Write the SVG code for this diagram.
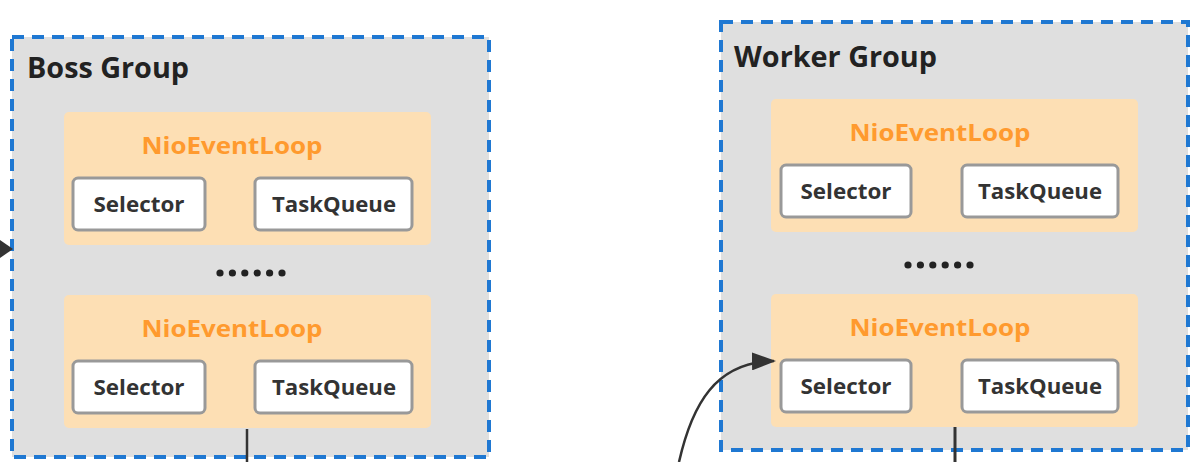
<svg xmlns="http://www.w3.org/2000/svg" width="1202" height="462" viewBox="0 0 1202 462">
<style>
.grp{fill:#dfdfdf;stroke:#1f78d2;stroke-width:4;stroke-dasharray:12 8}
.loop{fill:#fddfb4}
.item{fill:#ffffff;stroke:#999999;stroke-width:3}
.gt{font-family:"Open Sans","Noto Sans",sans-serif;font-weight:bold;font-size:28px;fill:#222222}
.lt{font-family:"Open Sans","Noto Sans",sans-serif;font-weight:bold;font-size:24px;fill:#ff9a2e;text-anchor:middle}
.it{font-family:"Open Sans","Noto Sans",sans-serif;font-weight:bold;font-size:22px;fill:#333333;text-anchor:middle}
.dot{fill:#222222}
.ln{fill:none;stroke:#333333;stroke-width:2.5}
</style>
<defs>
<marker id="ah2" viewBox="0 0 24 18" refX="22" refY="9" markerWidth="24" markerHeight="18" orient="auto" markerUnits="userSpaceOnUse">
<path d="M0,0 L24,9 L0,18 z" fill="#333333"/>
</marker>
</defs>

<g id="boss-group">
<rect class="grp" x="12" y="37" width="477" height="420"/>
<text class="gt" x="27" y="78" textLength="162" lengthAdjust="spacingAndGlyphs">Boss Group</text>
</g>
<g id="boss-loop-1">
<rect class="loop" x="64" y="112" width="367" height="133" rx="5"/>
<text class="lt" x="232" y="154" textLength="181" lengthAdjust="spacingAndGlyphs">NioEventLoop</text>
<rect class="item" x="73" y="178" width="132" height="52" rx="5"/>
<text class="it" x="139" y="212" textLength="91" lengthAdjust="spacingAndGlyphs">Selector</text>
<rect class="item" x="255" y="178" width="157" height="52" rx="5"/>
<text class="it" x="334" y="212" textLength="124" lengthAdjust="spacingAndGlyphs">TaskQueue</text>
</g>
<g id="boss-dots">
<circle class="dot" cx="220" cy="273" r="3.6"/><circle class="dot" cx="232.4" cy="273" r="3.6"/><circle class="dot" cx="244.8" cy="273" r="3.6"/><circle class="dot" cx="257.2" cy="273" r="3.6"/><circle class="dot" cx="269.6" cy="273" r="3.6"/><circle class="dot" cx="282" cy="273" r="3.6"/>
</g>
<g id="boss-loop-2">
<rect class="loop" x="64" y="295" width="367" height="133" rx="5"/>
<text class="lt" x="232" y="337" textLength="181" lengthAdjust="spacingAndGlyphs">NioEventLoop</text>
<rect class="item" x="73" y="361" width="132" height="52" rx="5"/>
<text class="it" x="139" y="395" textLength="91" lengthAdjust="spacingAndGlyphs">Selector</text>
<rect class="item" x="255" y="361" width="157" height="52" rx="5"/>
<text class="it" x="334" y="395" textLength="124" lengthAdjust="spacingAndGlyphs">TaskQueue</text>
</g>

<g id="worker-group">
<rect class="grp" x="721" y="22" width="467" height="428"/>
<text class="gt" x="734" y="67" textLength="203" lengthAdjust="spacingAndGlyphs">Worker Group</text>
</g>
<g id="worker-loop-1">
<rect class="loop" x="771" y="99" width="367" height="133" rx="5"/>
<text class="lt" x="940" y="141" textLength="181" lengthAdjust="spacingAndGlyphs">NioEventLoop</text>
<rect class="item" x="781" y="165" width="130" height="52" rx="5"/>
<text class="it" x="846" y="199" textLength="91" lengthAdjust="spacingAndGlyphs">Selector</text>
<rect class="item" x="962" y="165" width="156" height="52" rx="5"/>
<text class="it" x="1040" y="199" textLength="124" lengthAdjust="spacingAndGlyphs">TaskQueue</text>
</g>
<g id="worker-dots">
<circle class="dot" cx="908" cy="265" r="3.6"/><circle class="dot" cx="920.4" cy="265" r="3.6"/><circle class="dot" cx="932.8" cy="265" r="3.6"/><circle class="dot" cx="945.2" cy="265" r="3.6"/><circle class="dot" cx="957.6" cy="265" r="3.6"/><circle class="dot" cx="970" cy="265" r="3.6"/>
</g>
<g id="worker-loop-2">
<rect class="loop" x="771" y="294" width="367" height="133" rx="5"/>
<text class="lt" x="940" y="336" textLength="181" lengthAdjust="spacingAndGlyphs">NioEventLoop</text>
<rect class="item" x="781" y="360" width="130" height="52" rx="5"/>
<text class="it" x="846" y="394" textLength="91" lengthAdjust="spacingAndGlyphs">Selector</text>
<rect class="item" x="962" y="360" width="156" height="52" rx="5"/>
<text class="it" x="1040" y="394" textLength="124" lengthAdjust="spacingAndGlyphs">TaskQueue</text>
</g>

<g id="connectors">
<path class="ln" d="M247,429 L247,462"/>
<path class="ln" d="M955,427 L955,462" style="stroke-width:3"/>
<path d="M0,240 L13,249 L0,258 z" fill="#333333"/>
<path class="ln" d="M679,462 C692,405 715,362 774,361" marker-end="url(#ah2)"/>
</g>
</svg>
